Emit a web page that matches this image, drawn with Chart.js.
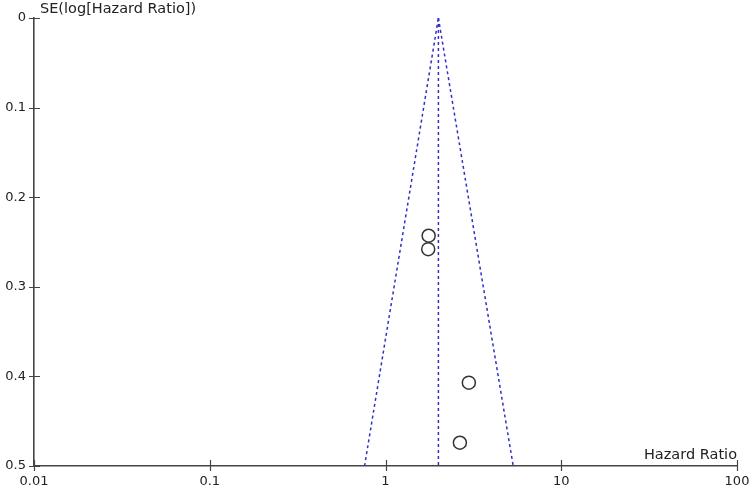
<!DOCTYPE html>
<html>
<head>
<meta charset="utf-8">
<script src="https://cdn.jsdelivr.net/npm/chart.js@4/dist/chart.umd.min.js"></script>
<style>
  html, body { margin: 0; padding: 0; background: #fff; }
  #wrap { width: 751px; height: 489px; position: relative; }
</style>
</head>
<body>
<div id="wrap"><canvas id="funnel"></canvas></div>
<script>
// --- data ---
const hazardRatio = [1.76, 1.75, 2.98, 2.65];
const seLogHR = [0.243, 0.258, 0.407, 0.474];
const pooledHR = 2.0;
const funnelLow = 0.76;   // HR at SE = 0.5, left limit
const funnelHigh = 5.33;  // HR at SE = 0.5, right limit
const seMax = 0.5;
const xTicks = [0.01, 0.1, 1, 10, 100];
const yTicks = [0, 0.1, 0.2, 0.3, 0.4, 0.5];

const AXIS_COLOR = '#444';
const FUNNEL_COLOR = '#3030c8';
const TICK_FONT = { family: 'DejaVu Sans', size: 13 };
const TITLE_FONT = '14.5px "DejaVu Sans"';

const dashed = {
  showLine: true,
  borderColor: FUNNEL_COLOR,
  borderWidth: 1.5,
  borderDash: [3, 3],
  pointRadius: 0,
  fill: false,
};

// tick marks crossing the axis lines, plus axis titles
const axisDecor = {
  id: 'axisDecor',
  afterDraw(chart) {
    const { ctx, chartArea, scales } = chart;
    ctx.save();
    ctx.strokeStyle = AXIS_COLOR;
    ctx.lineWidth = 1.2;
    ctx.beginPath();
    xTicks.forEach(v => {
      const px = Math.round(scales.x.getPixelForValue(v)) + 0.5;
      ctx.moveTo(px, chartArea.bottom - 6);
      ctx.lineTo(px, chartArea.bottom + 5);
    });
    yTicks.forEach(v => {
      const py = Math.round(scales.y.getPixelForValue(v)) + 0.5;
      ctx.moveTo(chartArea.left - 5, py);
      ctx.lineTo(chartArea.left + 6, py);
    });
    ctx.stroke();

    ctx.fillStyle = '#222';
    ctx.font = TITLE_FONT;
    ctx.textBaseline = 'alphabetic';
    ctx.textAlign = 'left';
    ctx.fillText('SE(log[Hazard Ratio])', 40, 13);
    ctx.textAlign = 'right';
    ctx.fillText('Hazard Ratio', 737, 459);
    ctx.restore();
  }
};

new Chart(document.getElementById('funnel').getContext('2d'), {
  type: 'scatter',
  data: {
    datasets: [
      {
        ...dashed,
        label: 'left limit',
        data: [{ x: funnelLow, y: seMax }, { x: pooledHR, y: 0 }],
      },
      {
        ...dashed,
        label: 'right limit',
        data: [{ x: pooledHR, y: 0 }, { x: funnelHigh, y: seMax }],
      },
      {
        ...dashed,
        label: 'pooled',
        data: [{ x: pooledHR, y: 0 }, { x: pooledHR, y: seMax }],
      },
      {
        label: 'studies',
        data: hazardRatio.map((hr, i) => ({ x: hr, y: seLogHR[i] })),
        pointRadius: 6.5,
        pointBorderWidth: 1.5,
        pointBorderColor: '#333',
        pointBackgroundColor: 'rgba(255,255,255,0)',
        showLine: false,
      }
    ]
  },
  options: {
    responsive: true,
    maintainAspectRatio: false,
    animation: false,
    layout: { padding: { top: 18, right: 14, left: 0, bottom: 0 } },
    plugins: {
      legend: { display: false },
      tooltip: { enabled: false },
    },
    scales: {
      x: {
        type: 'logarithmic',
        min: 0.01,
        max: 100,
        grid: { display: false, drawTicks: false },
        border: { display: true, color: AXIS_COLOR, width: 1.6 },
        afterBuildTicks: s => { s.ticks = xTicks.map(v => ({ value: v })); },
        afterFit: s => { s.height = 23; s.paddingLeft = 0; s.paddingRight = 0; },
        ticks: {
          color: '#222',
          font: TICK_FONT,
          padding: 8,
          maxRotation: 0,
          autoSkip: false,
          callback: v => String(v),
        }
      },
      y: {
        type: 'linear',
        reverse: true,
        min: 0,
        max: seMax,
        grid: { display: false, drawTicks: false },
        border: { display: true, color: AXIS_COLOR, width: 1.6 },
        afterBuildTicks: s => { s.ticks = yTicks.map(v => ({ value: v })); },
        afterFit: s => { s.width = 34; s.paddingTop = 0; s.paddingBottom = 0; },
        ticks: {
          color: '#222',
          font: TICK_FONT,
          padding: 8,
          callback: v => String(v),
        }
      }
    }
  },
  plugins: [axisDecor]
});
</script>
</body>
</html>
